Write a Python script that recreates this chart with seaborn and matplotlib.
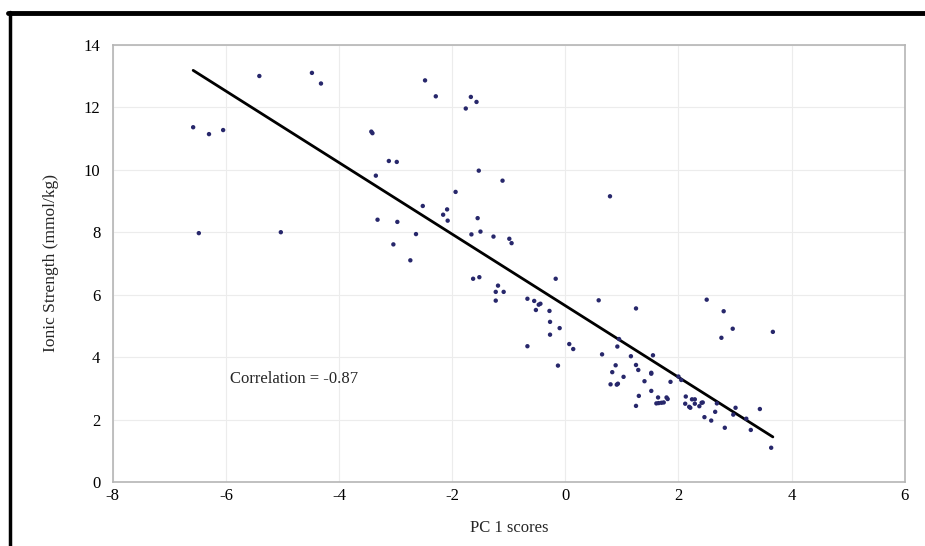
import numpy as np
import pandas as pd
import matplotlib
matplotlib.use("Agg")
import matplotlib.pyplot as plt
from matplotlib.lines import Line2D
import seaborn as sns

pc1_scores = [-6.58, -6.30, -6.05, -6.48, -5.03, -5.41, -4.48, -4.32, -3.43, -3.41,
              -3.12, -2.98, -3.35, -3.32, -2.97, -3.04, -2.48, -2.29, -1.67, -1.57,
              -1.76, -1.53, -1.11, -1.94, -2.52, -2.09, -2.16, -2.08, -1.55, -2.64,
              -1.66, -1.50, -1.27, -0.99, -0.95, -2.74, 0.79, -1.63, -1.52, -1.19,
              -1.23, -1.09, -1.23, -0.17, -0.67, -0.55, -0.47, -0.44, -0.52, -0.28,
              -0.27, -0.10, -0.27, -0.67, 0.07, 0.14, -0.13, 0.59, 1.25, 0.95,
              0.92, 0.65, 1.16, 1.55, 0.89, 1.25, 1.29, 0.83, 1.52, 1.52,
              1.03, 1.40, 1.86, 0.80, 0.91, 0.93, 1.52, 1.30, 1.64, 1.79,
              1.81, 1.61, 1.65, 1.70, 1.74, 1.25, 2.50, 2.80, 2.96, 2.76,
              3.67, 2.00, 2.05, 2.13, 2.24, 2.29, 2.41, 2.43, 2.12, 2.19,
              2.21, 2.29, 2.37, 2.68, 2.65, 3.01, 2.97, 2.46, 2.58, 3.20,
              3.44, 2.82, 3.28, 3.64]
ionic_strength = [11.36, 11.14, 11.27, 7.97, 8.00, 13.00, 13.10, 12.76, 11.22, 11.17,
                  10.28, 10.25, 9.81, 8.40, 8.33, 7.61, 12.86, 12.35, 12.33, 12.17,
                  11.96, 9.97, 9.65, 9.29, 8.84, 8.73, 8.56, 8.37, 8.45, 7.94,
                  7.93, 8.02, 7.86, 7.79, 7.65, 7.10, 9.15, 6.51, 6.56, 6.29,
                  6.09, 6.09, 5.81, 6.51, 5.87, 5.80, 5.68, 5.71, 5.51, 5.48,
                  5.13, 4.93, 4.72, 4.35, 4.42, 4.26, 3.73, 5.82, 5.56, 4.58,
                  4.34, 4.09, 4.03, 4.06, 3.74, 3.75, 3.59, 3.52, 3.50, 3.47,
                  3.37, 3.23, 3.21, 3.13, 3.12, 3.15, 2.92, 2.76, 2.71, 2.71,
                  2.66, 2.52, 2.53, 2.54, 2.55, 2.44, 5.84, 5.47, 4.91, 4.62,
                  4.81, 3.38, 3.27, 2.74, 2.65, 2.65, 2.54, 2.55, 2.51, 2.41,
                  2.38, 2.51, 2.43, 2.52, 2.25, 2.38, 2.16, 2.08, 1.97, 2.03,
                  2.34, 1.74, 1.67, 1.10]

x_ticks = [-8, -6, -4, -2, 0, 2, 4, 6]
y_ticks = [0, 2, 4, 6, 8, 10, 12, 14]
annotation = "Correlation = -0.87"

df = pd.DataFrame({"pc1": pc1_scores, "ionic": ionic_strength})

sns.set_theme(style="white")
plt.rcParams['font.family'] = ['Liberation Serif', 'DejaVu Serif']

fig = plt.figure(figsize=(9.25, 5.46), dpi=100)
ax = fig.add_axes([0.122, 0.117, 0.856, 0.801])

sns.regplot(data=df, x="pc1", y="ionic", ax=ax, ci=None, truncate=True,
            scatter=False, line_kws=dict(color="black", lw=2.0))
sns.scatterplot(data=df, x="pc1", y="ionic", ax=ax, color="#27276b",
                s=10, marker="o", edgecolor="none", zorder=3)

ax.set_xlim(-8, 6)
ax.set_ylim(0, 14)
ax.set_xticks(x_ticks)
ax.set_yticks(y_ticks)
ax.set_xticklabels([str(t) for t in x_ticks])
ax.set_yticklabels([str(t) for t in y_ticks])
ax.tick_params(length=0, labelsize=12, colors="black")
ax.tick_params(axis="x", pad=4)
ax.tick_params(axis="y", pad=9)
ax.grid(True, color="#ececec", lw=0.8)
for sp in ax.spines.values():
    sp.set_color("#b5b5b5")
    sp.set_linewidth(1.2)
ax.set_xlabel("PC 1 scores", fontsize=12, labelpad=12)
ax.set_ylabel("Ionic Strength (mmol/kg)", fontsize=12.5, labelpad=18)
ax.text(-5.93, 3.3, annotation, fontsize=12, va="center", ha="left")

# outer frame (top and left black border)
fig.add_artist(Line2D([0.009, 1.0], [0.976, 0.976], color="black", lw=3.5,
                      transform=fig.transFigure))
fig.add_artist(Line2D([0.0105, 0.0105], [0.0, 0.978], color="black", lw=2.5,
                      transform=fig.transFigure))

fig.savefig("out.png", dpi=100)
